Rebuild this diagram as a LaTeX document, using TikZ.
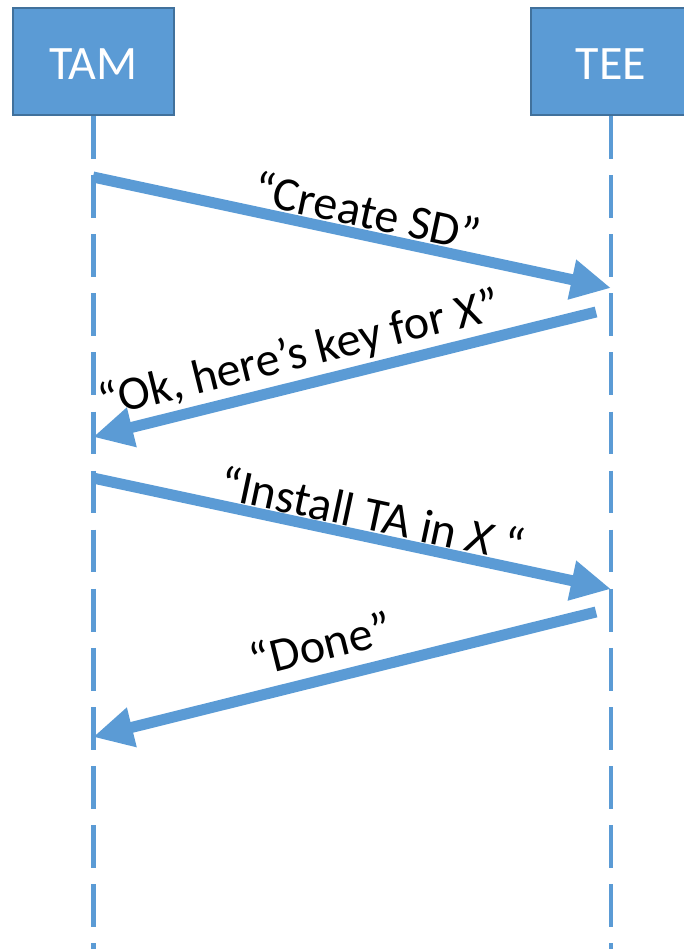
\documentclass[tikz,border=0pt]{standalone}
\usepackage{fontspec}
\setmainfont{Carlito}
\usetikzlibrary{arrows.meta,calc}

\definecolor{lineblue}{HTML}{5B9BD5}
\definecolor{edgeblue}{HTML}{41719C}

\tikzset{
  actor/.style={draw=edgeblue, line width=2pt, fill=lineblue, text=white,
    minimum width=161pt, minimum height=107pt, inner sep=0pt,
    text height=36pt, text depth=0pt,
    font=\fontsize{48}{52}\selectfont},
  lifeline/.style={draw=lineblue, line width=4.5pt,
    dash pattern=on 42.7pt off 16.4pt},
  message/.style={draw=lineblue, line width=11pt, line cap=butt,
    -{Triangle[length=40pt, width=38pt]}},
  msglabel/.style={sloped, anchor=base, inner sep=0pt, text=black,
    font=\fontsize{48}{52}\selectfont}
}

\begin{document}
\begin{tikzpicture}[x=1pt, y=1pt]
  \useasboundingbox (0,0) rectangle (684,-949);

  % participants
  \node[actor] (tam) at (93.5,-61.5) {TAM};
  \node[actor] (tee) at (611,-61.5) {TEE};

  % lifeline ends
  \coordinate (tamEnd) at (93.5,-955);
  \coordinate (teeEnd) at (611,-955);

  \draw[lifeline] (tam.south) -- (tamEnd);
  \draw[lifeline] (tee.south) -- (teeEnd);

  % message end points
  \coordinate (m1s) at (93,-177);
  \coordinate (m1e) at (611,-288);
  \coordinate (m2s) at (596,-312);
  \coordinate (m2e) at (93,-437);
  \coordinate (m3s) at (93,-478);
  \coordinate (m3e) at (611,-589);
  \coordinate (m4s) at (596,-612);
  \coordinate (m4e) at (93,-737);

  \draw[message] (m1s) -- node[msglabel, pos=0.52, yshift=7pt] (l1) {“Create SD”} (m1e);
  \draw[message] (m2s) -- node[msglabel, pos=0.575, yshift=16.5pt] (l2) {“Ok, here’s key for X”} (m2e);
  \draw[message] (m3s) -- node[msglabel, pos=0.53, yshift=6.5pt] (l3) {“Install TA in \textit{X} “} (m3e);
  \draw[message] (m4s) -- node[msglabel, pos=0.53, yshift=19pt] (l4) {“Done”} (m4e);
\end{tikzpicture}
\end{document}
